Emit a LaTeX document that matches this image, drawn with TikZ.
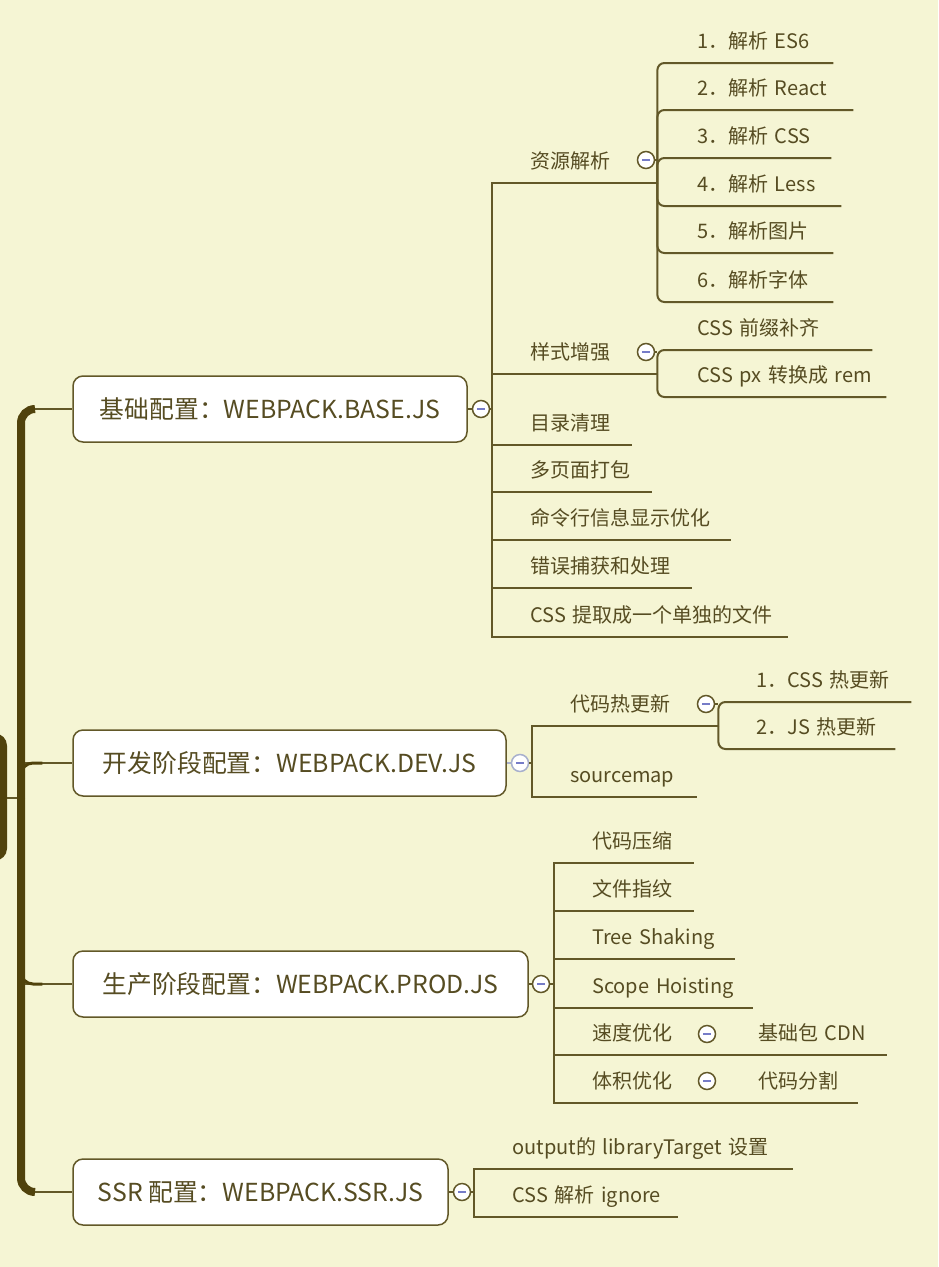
\documentclass[tikz,border=0pt]{standalone}
\usepackage{fontspec}
\setmainfont{Noto Sans CJK SC}

\definecolor{paper}{RGB}{245,245,212}
\definecolor{ink}{RGB}{86,76,34}
\definecolor{branchc}{RGB}{98,88,40}
\definecolor{trunkc}{RGB}{80,66,12}
\definecolor{minusc}{RGB}{118,124,200}
\definecolor{palec}{RGB}{168,176,205}

\newcommand{\leafsize}{\fontsize{20}{24}\selectfont}
\newcommand{\topicsize}{\fontsize{24.8}{29}\selectfont}

\tikzset{
	topic/.style={draw=branchc, fill=white, line width=1.5pt, rounded corners=10pt, minimum height=66pt, inner sep=0pt, text=ink, font=\topicsize},
	leaf/.style={anchor=south west, align=left, inner xsep=0pt, inner ysep=14pt, text depth=0pt, text=ink, font=\leafsize},
	fold/.style={circle, draw=branchc, fill=white, line width=1.5pt, minimum size=17pt, inner sep=0pt,
		path picture={\draw[minusc, line width=1.3pt] ([xshift=-4pt]path picture bounding box.center) -- ([xshift=4pt]path picture bounding box.center);}},
	rootbox/.style={fill=trunkc, rounded corners=12pt, inner sep=0pt},
	link/.style={draw=branchc, line width=2pt},
	sublink/.style={link, rounded corners=7pt},
	trunk/.style={draw=trunkc, line width=8pt, rounded corners=14pt},
}

\begin{document}
\begin{tikzpicture}[x=1pt, y=-1pt]
	\useasboundingbox (0,0) rectangle (938,1267);
	\fill[paper] (0,0) rectangle (938,1267);

	% root and trunk
	\node[rootbox, minimum width=46pt, minimum height=127pt] (root) at (-16,797) {};
	\coordinate (tk) at (21,798);
	\coordinate (t1) at (35,409);
	\coordinate (t4) at (35,1192);

	% main topics
	\node[topic, minimum width=394pt] (base) at (270,409) {基础配置：WEBPACK.BASE.JS};
	\node[topic, minimum width=433pt] (dev) at (289.5,763) {开发阶段配置：WEBPACK.DEV.JS};
	\node[topic, minimum width=455pt] (prod) at (300.5,984) {生产阶段配置：WEBPACK.PROD.JS};
	\node[topic, minimum width=375pt] (ssr) at (260.5,1192) {SSR 配置：WEBPACK.SSR.JS};

	\node[fold] (basef) at (481,409) {};
	\node[fold, draw=palec] (devf) at (520,763) {};
	\node[fold] (prodf) at (541,984) {};
	\node[fold] (ssrf) at (462,1192) {};

	\coordinate (bh) at (492,409);
	\coordinate (dh) at (532,763);
	\coordinate (ph) at (554,984);
	\coordinate (sh) at (474,1192);

	% trunk lines
	\draw[link, line width=1.5pt] (root.east |- tk) -- (tk);
	\draw[link, line width=1.5pt] (t1) -- (base.west);
	\draw[link, line width=1.5pt] (t4) -- (ssr.west);
	\draw[link, line width=1.5pt] (tk |- dev.west) -- (dev.west);
	\draw[link, line width=1.5pt] (tk |- prod.west) -- (prod.west);
	\draw[trunkc, line width=3pt, rounded corners=12pt] (tk) |- ([xshift=-30pt]dev.west);
	\draw[trunkc, line width=3pt, rounded corners=12pt] (tk) |- ([xshift=-30pt]prod.west);
	\draw[trunk] (tk) |- (t1);
	\draw[trunk] (tk) |- (t4);

	% base
	\node[leaf, text width=127pt] (b1) at (530,183) {资源解析};
	\node[leaf, text width=127pt] (b2) at (530,374) {样式增强};
	\node[leaf, text width=102pt] (b3) at (530,445) {目录清理};
	\node[leaf, text width=122pt] (b4) at (530,492) {多页面打包};
	\node[leaf, text width=201pt] (b5) at (530,540) {命令行信息显示优化};
	\node[leaf, text width=162pt] (b6) at (530,588) {错误捕获和处理};
	\node[leaf, text width=258pt] (b7) at (530,637) {CSS 提取成一个单独的文件};

	\node[leaf, text width=136pt] (b11) at (697,63) {1．解析 ES6};
	\node[leaf, text width=156pt] (b12) at (697,110) {2．解析 React};
	\node[leaf, text width=134pt] (b13) at (697,158) {3．解析 CSS};
	\node[leaf, text width=144pt] (b14) at (697,206) {4．解析 Less};
	\node[leaf, text width=136pt] (b15) at (697,253) {5．解析图片};
	\node[leaf, text width=136pt] (b16) at (697,302) {6．解析字体};
	\node[leaf, text width=175pt] (b21) at (697,350) {CSS 前缀补齐};
	\node[leaf, text width=189pt] (b22) at (697,397) {CSS px 转换成 rem};

	\node[fold] (b1f) at (646,160) {};
	\node[fold] (b2f) at (646,352) {};

	\draw[link] (base.east) -- (basef.west);
	\draw[link] (basef.east) -- (bh);
	\foreach \n in {b1,b2,b3,b4,b5,b6,b7}
		\draw[link] (bh) |- (\n.south east);
	\foreach \n in {b11,b12,b13,b14,b15,b16}
		\draw[sublink] (b1.south east) |- (\n.south east);
	\foreach \n in {b21,b22}
		\draw[sublink] (b2.south east) |- (\n.south east);
	\draw[link] (b1f.east) -- (b1f.east -| b1.south east);
	\draw[link] (b2f.east) -- (b2f.east -| b2.south east);

	% dev
	\node[leaf, text width=148pt] (d1) at (570,726) {代码热更新};
	\node[leaf, text width=127pt] (d2) at (570,797) {sourcemap};
	\node[leaf, text width=155pt] (d11) at (756,702) {1．CSS 热更新};
	\node[leaf, text width=139pt] (d12) at (756,749) {2．JS 热更新};
	\node[fold] (d1f) at (706,704) {};

	\draw[link, draw=palec] (dev.east) -- (devf.west);
	\draw[link] (devf.east) -- (dh);
	\draw[link] (dh) |- (d1.south east);
	\draw[link] (dh) |- (d2.south east);
	\draw[sublink] (d1.south east) |- (d11.south east);
	\draw[sublink] (d1.south east) |- (d12.south east);
	\draw[link] (d1f.east) -- (d1f.east -| d1.south east);

	% prod
	\node[leaf, text width=102pt] (p1) at (592,863) {代码压缩};
	\node[leaf, text width=102pt] (p2) at (592,911) {文件指纹};
	\node[leaf, text width=143pt] (p3) at (592,959) {Tree Shaking};
	\node[leaf, text width=161pt] (p4) at (592,1008) {Scope Hoisting};
	\node[leaf, text width=128pt] (p5) at (592,1055) {速度优化};
	\node[leaf, text width=128pt] (p6) at (592,1103) {体积优化};
	\node[leaf, text width=129pt] (p51) at (758,1055) {基础包 CDN};
	\node[leaf, text width=100pt] (p61) at (758,1103) {代码分割};
	\node[fold] (p5f) at (707,1034) {};
	\node[fold] (p6f) at (707,1081) {};

	\draw[link] (prod.east) -- (prodf.west);
	\draw[link] (prodf.east) -- (ph);
	\foreach \n in {p1,p2,p3,p4,p5,p6}
		\draw[link] (ph) |- (\n.south east);
	\draw[link] (p5.south east) -- (p51.south east);
	\draw[link] (p6.south east) -- (p61.south east);

	% ssr
	\node[leaf, text width=281pt] (s1) at (512,1169) {output的 libraryTarget 设置};
	\node[leaf, text width=166pt] (s2) at (512,1217) {CSS 解析 ignore};

	\draw[link] (ssr.east) -- (ssrf.west);
	\draw[link] (ssrf.east) -- (sh);
	\draw[link] (sh) |- (s1.south east);
	\draw[link] (sh) |- (s2.south east);
\end{tikzpicture}
\end{document}
